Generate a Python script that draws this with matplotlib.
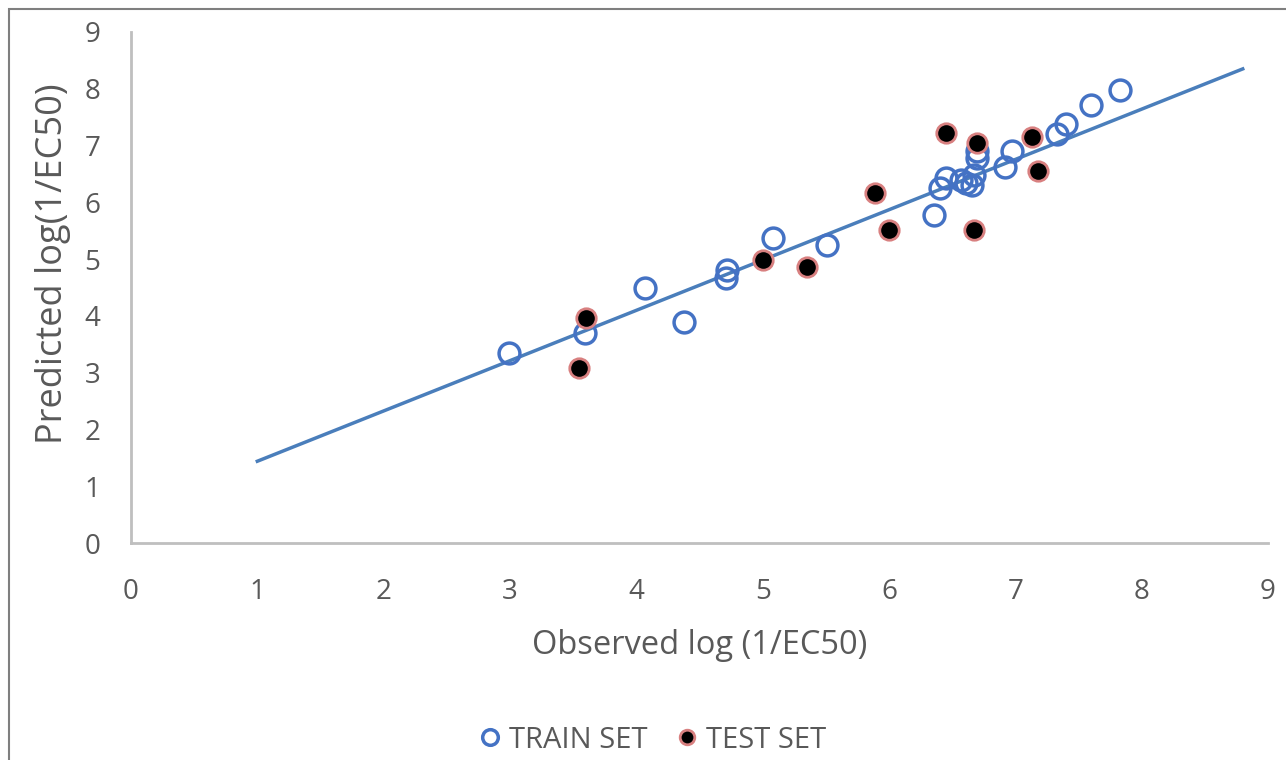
import numpy as np
import matplotlib.pyplot as plt
from matplotlib.patches import Rectangle

plt.rcParams['font.family'] = ['Open Sans', 'DejaVu Sans']

# treino (circulos abertos)
train_obs = [2.99, 3.59, 4.07, 4.38, 4.71, 4.72, 5.08, 5.51, 6.36, 6.40, 6.45,
             6.57, 6.61, 6.66, 6.67, 6.70, 6.70, 6.92, 6.97, 7.33, 7.40, 7.60, 7.83]
train_pred = [3.34, 3.69, 4.50, 3.90, 4.67, 4.80, 5.38, 5.25, 5.77, 6.26, 6.42,
              6.39, 6.34, 6.30, 6.48, 6.78, 6.90, 6.63, 6.91, 7.21, 7.38, 7.72, 7.98]

# teste (pontos pretos)
test_obs = [3.55, 3.60, 5.00, 5.35, 5.89, 6.00, 6.45, 6.70, 6.67, 7.13, 7.18]
test_pred = [3.08, 3.97, 4.98, 4.86, 6.16, 5.51, 7.22, 7.05, 5.51, 7.15, 6.55]

# linha de tendencia
linha_x = [1.0, 8.8]
linha_y = [1.44, 8.35]

cinza = '#595959'

fig = plt.figure(figsize=(12.86, 7.60), dpi=100)
ax = fig.add_axes([131/1286, 1 - 543/760, (1268 - 131)/1286, (543 - 32)/760])

ax.plot(linha_x, linha_y, color='#4a7ebb', linewidth=2.5, zorder=2)
ax.plot(train_obs, train_pred, 'o', markersize=15, markerfacecolor='none',
        markeredgecolor='#4472c4', markeredgewidth=2.5, label='TRAIN SET', zorder=3)
ax.plot(test_obs, test_pred, 'o', markersize=14, markerfacecolor='black',
        markeredgecolor='#d88080', markeredgewidth=2.0, label='TEST SET', zorder=4)

ax.set_xlim(0, 9)
ax.set_ylim(0, 9)
ax.set_xticks(range(10))
ax.set_yticks(range(10))
ax.tick_params(length=0, labelsize=20, colors=cinza)
ax.tick_params(axis='x', pad=25)
ax.tick_params(axis='y', pad=22)

for lado in ['top', 'right']:
    ax.spines[lado].set_visible(False)
for lado in ['left', 'bottom']:
    ax.spines[lado].set_color('#bfbfbf')
    ax.spines[lado].set_linewidth(2)

ax.set_xlabel('Observed log (1/EC50)', fontsize=23.5, color=cinza, labelpad=17)
ax.set_ylabel('Predicted log(1/EC50)', fontsize=26, color=cinza)
ax.yaxis.set_label_coords(-0.053, 0.546)

ax.legend(loc='center', bbox_to_anchor=(0.454, -(740 - 543) / 511),
          ncol=2, frameon=False, fontsize=21, labelcolor=cinza, handletextpad=-0.1,
          columnspacing=0.6, markerscale=0.75, handlelength=1.5)

# moldura externa
fig.patches.append(Rectangle((9/1286, -0.1), 1.2, 1.1 - 9/760, transform=fig.transFigure,
                             fill=False, edgecolor='#7f7f7f', linewidth=1.5))

fig.savefig('out.png', dpi=100)
